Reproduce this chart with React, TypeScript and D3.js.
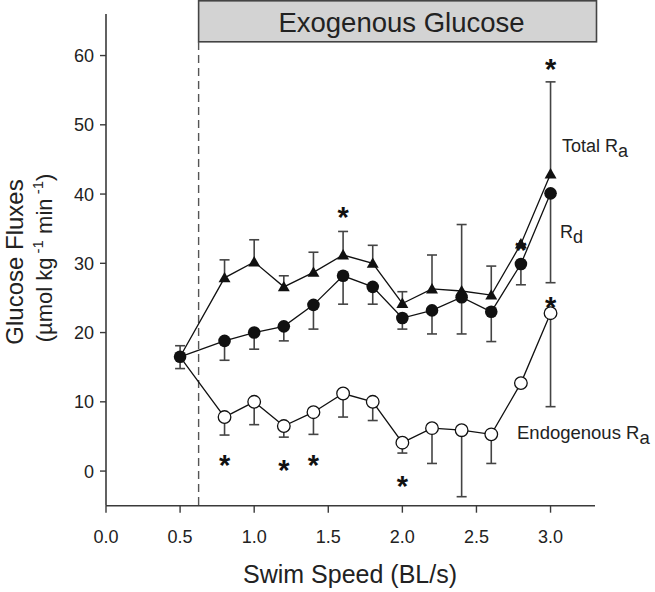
import React from "react";
import * as d3 from "d3";

const speeds = [0.5, 0.8, 1.0, 1.2, 1.4, 1.6, 1.8, 2.0, 2.2, 2.4, 2.6, 2.8, 3.0];
const totalRa = [16.5, 27.9, 30.2, 26.6, 28.7, 31.2, 30.0, 24.2, 26.3, 26.0, 25.4, 32.8, 42.9];
const totalRaErr = [0, 2.6, 3.2, 1.6, 2.9, 3.4, 2.6, 1.7, 4.9, 9.6, 4.2, 0, 13.3];
const rd = [16.5, 18.8, 20.0, 20.9, 24.0, 28.2, 26.6, 22.1, 23.2, 25.1, 23.0, 29.9, 40.1];
const rdErr = [1.7, 2.8, 2.4, 2.1, 3.5, 4.1, 2.5, 1.6, 3.4, 5.3, 4.3, 3.0, 12.9];
const endoRa = [16.5, 7.8, 10.0, 6.5, 8.5, 11.2, 10.0, 4.1, 6.2, 5.9, 5.3, 12.7, 22.8];
const endoRaErr = [0, 2.6, 3.3, 1.6, 3.2, 3.4, 2.7, 1.5, 5.1, 9.6, 4.2, 0, 13.5];
const starX = [0.8, 1.2, 1.4, 1.6, 2.0, 2.8, 3.0, 3.0];
const starY = [1.9, 1.2, 1.9, 37.7, -1.2, 33.0, 59.1, 24.7];
const xTicks = [0.0, 0.5, 1.0, 1.5, 2.0, 2.5, 3.0];
const yTicks = [0, 10, 20, 30, 40, 50, 60];
const exoStart = 0.625;

const W = 655, H = 592;
const FONT = "Liberation Sans, Arial, Helvetica, sans-serif";
const AX = "#3a3a3a";
const TXT = "#222";

export default function App() {
  const x = d3.scaleLinear().domain([0, 3.3]).range([106, 595]);
  const y = d3.scaleLinear().domain([-5, 66]).range([505.7, 14]);
  const line = d3.line<[number, number]>().x((d) => x(d[0])).y((d) => y(d[1]));
  const mk = (vals: number[]) => speeds.map((s, i) => [s, vals[i]] as [number, number]);
  const cap = 5;
  const tri = d3.symbol().type(d3.symbolTriangle).size(62)();

  const errBar = (key: string, xs: number, y0: number, y1: number) => (
    <g key={key} stroke="#444" strokeWidth={1.6}>
      <line x1={x(xs)} x2={x(xs)} y1={y(y0)} y2={y(y1)} />
      <line x1={x(xs) - cap} x2={x(xs) + cap} y1={y(y1)} y2={y(y1)} />
    </g>
  );

  return (
    <svg width={W} height={H} style={{ position: "absolute", left: 0, top: 0 }} fontFamily={FONT}>
      <rect width={W} height={H} fill="#fff" />
      {/* exogenous glucose box */}
      <rect x={x(exoStart)} y={0.8} width={596.5 - x(exoStart)} height={41} fill="#d3d3d3" stroke="#444" strokeWidth={1.6} />
      <text x={401.5} y={31.5} fontSize={27.5} textAnchor="middle" fill={TXT}>Exogenous Glucose</text>
      <line x1={x(exoStart)} x2={x(exoStart)} y1={42} y2={y(-5)} stroke="#555" strokeWidth={1.4} strokeDasharray="8,5" />

      {/* axes */}
      <line x1={x(0)} x2={x(0)} y1={y(66)} y2={y(-5)} stroke={AX} strokeWidth={1.6} />
      <line x1={x(0)} x2={x(3.3)} y1={y(-5)} y2={y(-5)} stroke={AX} strokeWidth={1.6} />
      {yTicks.map((t) => (
        <g key={"yt" + t}>
          <line x1={x(0) - 6} x2={x(0)} y1={y(t)} y2={y(t)} stroke={AX} strokeWidth={1.4} />
          <text x={x(0) - 12} y={y(t) + 6.5} fontSize={18} textAnchor="end" fill={TXT}>{t}</text>
        </g>
      ))}
      {xTicks.map((t) => (
        <g key={"xt" + t}>
          <line x1={x(t)} x2={x(t)} y1={y(-5)} y2={y(-5) + 7} stroke={AX} strokeWidth={1.4} />
          <text x={x(t)} y={543} fontSize={18} textAnchor="middle" fill={TXT}>{t.toFixed(1)}</text>
        </g>
      ))}
      <text x={350} y={583} fontSize={25} textAnchor="middle" fill={TXT}>Swim Speed (BL/s)</text>
      <g transform="translate(23,262) rotate(-90)">
        <text x={0} y={0} fontSize={24} textAnchor="middle" fill={TXT}>Glucose Fluxes</text>
      </g>
      <g transform="translate(52,258) rotate(-90)">
        <text x={0} y={0} fontSize={22} textAnchor="middle" fill={TXT}>
          (µmol kg
          <tspan fontSize={15} dy={-9}> -1</tspan>
          <tspan dy={9}> min</tspan>
          <tspan fontSize={15} dy={-9}> -1</tspan>
          <tspan dy={9}>)</tspan>
        </text>
      </g>

      {/* lines */}
      <path d={line(mk(totalRa)) || ""} fill="none" stroke="#111" strokeWidth={1.3} />
      <path d={line(mk(rd)) || ""} fill="none" stroke="#111" strokeWidth={1.3} />
      <path d={line(mk(endoRa)) || ""} fill="none" stroke="#111" strokeWidth={1.3} />

      {/* error bars */}
      {speeds.map((s, i) => (totalRaErr[i] > 0 ? errBar("te" + i, s, totalRa[i], totalRa[i] + totalRaErr[i]) : null))}
      {speeds.map((s, i) => (rdErr[i] > 0 ? errBar("re" + i, s, rd[i], rd[i] - rdErr[i]) : null))}
      {errBar("re0u", speeds[0], rd[0], rd[0] + 1.6)}
      {speeds.map((s, i) => (endoRaErr[i] > 0 ? errBar("ee" + i, s, endoRa[i], endoRa[i] - endoRaErr[i]) : null))}

      {/* markers */}
      {speeds.map((s, i) =>
        i === 0 ? null : (
          <circle key={"eo" + i} cx={x(s)} cy={y(endoRa[i])} r={6.3} fill="#fff" stroke="#111" strokeWidth={1.3} />
        )
      )}
      {speeds.map((s, i) =>
        i === 0 ? null : (
          <path key={"tr" + i} d={tri || ""} transform={`translate(${x(s)},${y(totalRa[i]) + 1})`} fill="#111" />
        )
      )}
      {speeds.map((s, i) => (
        <circle key={"rc" + i} cx={x(s)} cy={y(rd[i])} r={6.3} fill="#111" />
      ))}

      {/* significance stars */}
      {starX.map((s, i) => (
        <text key={"st" + i} x={x(s)} y={y(starY[i]) + 17} fontSize={29} fontWeight="bold" textAnchor="middle" fill="#111">*</text>
      ))}

      {/* series labels */}
      <text x={562} y={152} fontSize={18} fill={TXT}>
        Total R<tspan fontSize={18} dy={5}>a</tspan>
      </text>
      <text x={560} y={238} fontSize={18} fill={TXT}>
        R<tspan fontSize={18} dy={5}>d</tspan>
      </text>
      <text x={517} y={439} fontSize={18.5} fill={TXT}>
        Endogenous R<tspan fontSize={18.5} dy={5}>a</tspan>
      </text>
    </svg>
  );
}
